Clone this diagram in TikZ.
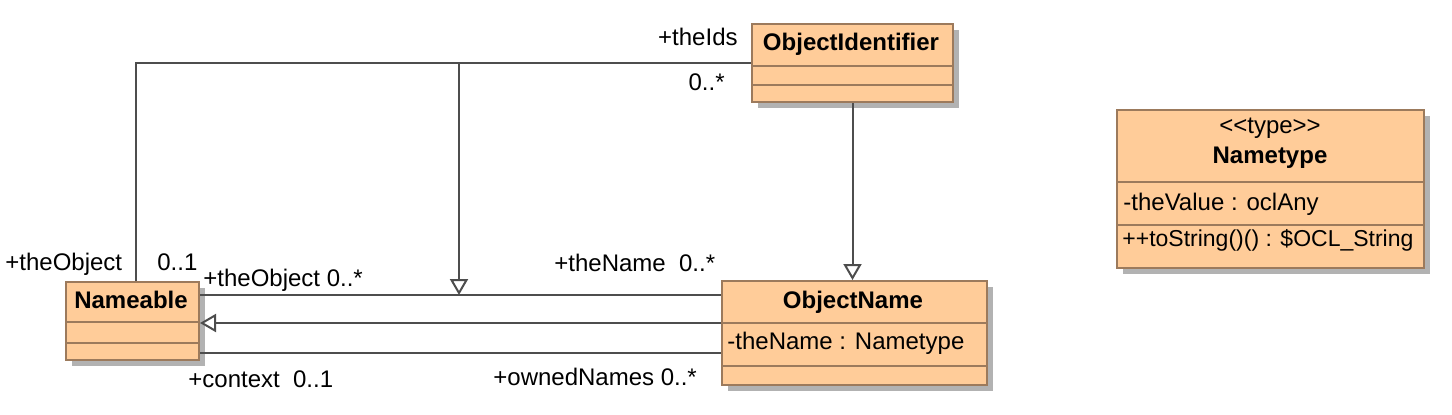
\documentclass[tikz,border=0pt]{standalone}
\usepackage{fontspec}
\setmainfont{Liberation Sans}
\usepackage{tikz}
\usetikzlibrary{calc,arrows.meta,positioning,shadows}
\definecolor{clsfill}{HTML}{FFCC99}
\definecolor{clsline}{HTML}{9C7A5C}
\definecolor{linec}{HTML}{4D4D4D}
\tikzset{
  cls/.style={draw=clsline,line width=1pt,fill=clsfill,inner sep=0pt,anchor=north west,
    drop shadow={shadow xshift=3pt,shadow yshift=-3pt,fill=black!30,opacity=1}},
  sep/.style={clsline,line width=1pt},
  asc/.style={linec,line width=1pt},
  gen/.style={linec,line width=1pt,-{Triangle[open,length=8pt,width=9pt,fill=white]}},
  ttl/.style={font=\fontsize{12}{14}\selectfont\bfseries,anchor=base,inner sep=0pt},
  txt/.style={font=\fontsize{12}{14}\selectfont,inner sep=0pt}
}

\begin{document}
\begin{tikzpicture}[x=0.5pt,y=-0.5pt]
\useasboundingbox (0,0) rectangle (1452,414);
% classes
\node[cls,minimum width=100.5pt,minimum height=39pt] (oid) at (751,23) {};
\node[cls,minimum width=66.5pt,minimum height=39pt] (nm) at (65,281) {};
\node[cls,minimum width=132.5pt,minimum height=52pt] (on) at (721,280) {};
\node[cls,minimum width=153.5pt,minimum height=79pt] (nt) at (1116,109) {};
\foreach \c/\d in {oid/43,oid/62,nm/41,nm/62,on/43,on/86,nt/73,nt/116}
  \draw[sep] ($(\c.north west)+(0,\d)$) -- ($(\c.north east)+(0,\d)$);
\node[ttl] (oidT) at (851,50) {ObjectIdentifier};
\node[ttl] (nmT) at (131,308) {Nameable};
\node[ttl] (onT) at (853,308) {ObjectName};
\node[txt,anchor=base west] (onA) at (727,349) {-theName : Nametype};
\node[txt,anchor=base] (ntS) at (1270,133) {<\kern0pt<type>\kern0pt>};
\node[ttl] (ntT) at (1270,163) {Nametype};
\node[txt,anchor=base west] (ntA) at (1123,210) {-theValue : oclAny};
\node[txt,anchor=base west,font=\fontsize{11.5}{14}\selectfont] (ntO) at (1122,246) {++toString()() : \$OCL\_String};
% connectors
\coordinate (jn) at (459,62);
\coordinate (a1) at ($(nm.east)+(0,-26)$);
\coordinate (a2) at ($(nm.east)+(0,2)$);
\coordinate (a3) at ($(nm.east)+(0,32)$);
\draw[asc] ($(nm.north)+(3,0)$) |- (oid.west);
\draw[asc] (a1) -- (a1 -| on.west);
\draw[asc] (a3) -- (a3 -| on.west);
\draw[gen] (a2 -| on.west) -- (a2);
\draw[gen] (jn) -- (jn |- a1);
\draw[gen] (oid.south) -- (oid.south |- on.north);
% role names and multiplicities
\node[txt,anchor=base east] (lIds) at (738,45) {+theIds};
\node[txt,anchor=base east] (lIdsM) at (725,90) {0..*};
\node[txt,anchor=base west] (lObj) at (5,270) {+theObject};
\node[txt,anchor=base west] (lObjM) at (157,270) {0..1};
\node[txt,anchor=base west] (lObj2) at (203,286) {+theObject 0..*};
\node[txt,anchor=base west] (lName) at (554,271) {+theName\ \ 0..*};
\node[txt,anchor=base west] (lCtx) at (188,387) {+context\ \ 0..1};
\node[txt,anchor=base west] (lOwn) at (493,385) {+ownedNames 0..*};
\end{tikzpicture}
\end{document}
